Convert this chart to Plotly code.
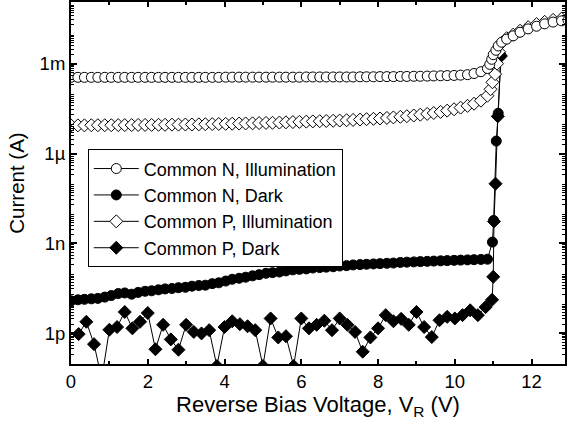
import plotly.graph_objects as go

# ---------------- data ----------------
# common voltage sweep (V) for the pre-breakdown region
V_SWEEP = [0.0, 0.18, 0.35, 0.53, 0.7, 0.88, 1.05, 1.23, 1.4, 1.58, 1.75, 1.93, 2.1, 2.28,
           2.45, 2.63, 2.8, 2.98, 3.15, 3.33, 3.5, 3.68, 3.85, 4.03, 4.2, 4.38, 4.55, 4.73,
           4.9, 5.08, 5.25, 5.43, 5.6, 5.78, 5.95, 6.13, 6.3, 6.48, 6.65, 6.83, 7.0, 7.18,
           7.35, 7.53, 7.7, 7.88, 8.05, 8.23, 8.4, 8.58, 8.75, 8.93, 9.1, 9.28, 9.45, 9.63,
           9.8, 9.98, 10.15, 10.33, 10.5, 10.68, 10.85]

# Common N, Illumination
N_ILL_I = [3.5e-4, 3.5e-4, 3.5e-4, 3.5e-4, 3.5e-4, 3.5e-4, 3.5e-4, 3.5e-4, 3.5e-4, 3.5e-4,
           3.5e-4, 3.5e-4, 3.5e-4, 3.5e-4, 3.5e-4, 3.5e-4, 3.5e-4, 3.5e-4, 3.5e-4, 3.5e-4,
           3.5e-4, 3.5e-4, 3.5e-4, 3.55e-4, 3.55e-4, 3.55e-4, 3.55e-4, 3.55e-4, 3.55e-4, 3.55e-4,
           3.55e-4, 3.55e-4, 3.55e-4, 3.55e-4, 3.55e-4, 3.6e-4, 3.6e-4, 3.6e-4, 3.6e-4, 3.6e-4,
           3.6e-4, 3.6e-4, 3.6e-4, 3.65e-4, 3.65e-4, 3.65e-4, 3.7e-4, 3.7e-4, 3.7e-4, 3.75e-4,
           3.75e-4, 3.8e-4, 3.8e-4, 3.85e-4, 3.9e-4, 3.95e-4, 4.0e-4, 4.05e-4, 4.15e-4, 4.3e-4,
           4.7e-4, 5.4e-4, 6.9e-4]
N_ILL_V_BD = [10.91, 10.96, 11.0, 11.07, 11.13, 11.22, 11.35, 11.52, 11.7, 11.91, 12.13,
              12.34, 12.56, 12.78, 12.95]
N_ILL_I_BD = [9.5e-4, 1.4e-3, 2.0e-3, 2.8e-3, 3.9e-3, 5.2e-3, 6.6e-3, 8.5e-3, 1.12e-2,
              1.45e-2, 1.78e-2, 2.14e-2, 2.45e-2, 2.69e-2, 2.8e-2]

# Common P, Illumination
P_ILL_I = [8.7e-6, 8.7e-6, 8.7e-6, 8.8e-6, 8.8e-6, 8.8e-6, 8.8e-6, 8.9e-6, 8.9e-6, 8.9e-6,
           9.0e-6, 9.0e-6, 9.0e-6, 9.1e-6, 9.1e-6, 9.2e-6, 9.2e-6, 9.3e-6, 9.3e-6, 9.4e-6,
           9.5e-6, 9.6e-6, 9.7e-6, 9.8e-6, 9.9e-6, 1.0e-5, 1.01e-5, 1.02e-5, 1.04e-5, 1.05e-5,
           1.06e-5, 1.08e-5, 1.1e-5, 1.12e-5, 1.14e-5, 1.16e-5, 1.18e-5, 1.2e-5, 1.22e-5, 1.24e-5,
           1.26e-5, 1.29e-5, 1.32e-5, 1.36e-5, 1.4e-5, 1.44e-5, 1.48e-5, 1.54e-5, 1.6e-5, 1.68e-5,
           1.76e-5, 1.86e-5, 1.98e-5, 2.1e-5, 2.25e-5, 2.45e-5, 2.7e-5, 3.0e-5, 3.4e-5, 3.9e-5,
           4.6e-5, 5.8e-5, 8.5e-5]
P_ILL_V_BD = [10.93, 10.98, 11.05, 11.1, 11.15, 11.22, 11.35, 11.52, 11.7, 11.91, 12.13,
              12.34, 12.56, 12.78, 12.95]
P_ILL_I_BD = [1.4e-4, 2.4e-4, 4.5e-4, 1.0e-3, 2.5e-3, 5.0e-3, 7.1e-3, 9.3e-3, 1.26e-2,
              1.66e-2, 2.1e-2, 2.5e-2, 2.9e-2, 3.2e-2, 3.4e-2]

# Common N, Dark
N_DARK_I = [1.2e-11, 1.3e-11, 1.35e-11, 1.4e-11, 1.45e-11, 1.6e-11, 1.8e-11, 2.1e-11, 2.2e-11, 2.0e-11,
            2.3e-11, 2.5e-11, 2.6e-11, 2.8e-11, 3.0e-11, 3.1e-11, 3.3e-11, 3.4e-11, 3.7e-11, 3.9e-11,
            4.0e-11, 4.5e-11, 4.8e-11, 5.5e-11, 6.3e-11, 6.8e-11, 7.4e-11, 8.2e-11, 9.0e-11, 1.0e-10,
            1.05e-10, 1.1e-10, 1.2e-10, 1.3e-10, 1.35e-10, 1.4e-10, 1.5e-10, 1.55e-10, 1.6e-10, 1.65e-10,
            1.75e-10, 1.8e-10, 1.9e-10, 1.95e-10, 2.0e-10, 2.05e-10, 2.1e-10, 2.15e-10, 2.2e-10, 2.3e-10,
            2.35e-10, 2.4e-10, 2.45e-10, 2.5e-10, 2.55e-10, 2.6e-10, 2.65e-10, 2.7e-10, 2.75e-10, 2.8e-10,
            2.85e-10, 2.9e-10, 2.95e-10]
N_DARK_V_BD = [10.98, 11.01, 11.08, 11.13, 11.2]
N_DARK_I_BD = [1.1e-9, 5.8e-9, 2.6e-6, 2.2e-5, 1.9e-3]

# Common P, Dark
P_DARK_V = [0.2, 0.4, 0.6, 0.8, 1.0, 1.2, 1.4, 1.6, 1.8, 2.0, 2.2, 2.4, 2.6, 2.8, 3.0, 3.2,
            3.4, 3.6, 3.8, 4.0, 4.2, 4.4, 4.6, 4.8, 5.0, 5.2, 5.4, 5.6, 5.8, 6.0, 6.2, 6.4,
            6.6, 6.8, 7.0, 7.2, 7.4, 7.6, 7.8, 8.0, 8.2, 8.4, 8.6, 8.8, 9.0, 9.2, 9.4, 9.6,
            9.8, 10.0, 10.2, 10.4, 10.6, 10.8, 10.97, 11.0, 11.02, 11.06, 11.12, 11.2]
P_DARK_I = [9.3e-13, 2.4e-12, 4.3e-13, 3e-14, 1.3e-12, 1.6e-12, 5.1e-12, 1.45e-12, 2.4e-12, 4.7e-12,
            2.9e-13, 1.9e-12, 6.2e-13, 2.8e-13, 1.9e-12, 1.1e-12, 9.8e-13, 1.26e-12, 8e-14, 1.6e-12,
            2.5e-12, 2.0e-12, 1.7e-12, 1.26e-12, 8e-14, 3.1e-12, 7.2e-13, 7.9e-13, 8e-14, 3.1e-12,
            1.45e-12, 1.9e-12, 2.6e-12, 1.26e-12, 3.1e-12, 1.9e-12, 1.1e-12, 2.4e-13, 7.2e-13, 1.45e-12,
            4.0e-12, 2.5e-12, 3.0e-12, 1.9e-12, 5.1e-12, 1.6e-12, 7.4e-13, 2.7e-12, 3.5e-12, 3.1e-12,
            4.0e-12, 5.8e-12, 4.0e-12, 7.4e-12, 1.3e-11, 7.6e-11, 5.4e-9, 9.8e-8, 1.74e-5, 1.8e-3]

# axis ticks
X_TICKS = [0, 2, 4, 6, 8, 10, 12]
Y_LABEL_VALS = [1e-12, 1e-9, 1e-6, 1e-3]
Y_LABELS = ["1p", "1n", "1µ", "1m"]
Y_OTHER_DECADES = [1e-13, 1e-11, 1e-10, 1e-8, 1e-7, 1e-5, 1e-4, 1e-2, 1e-1]

# ---------------- figure ----------------
FONT = "Liberation Sans, Arial, sans-serif"
YRANGE = [-13.03, -0.94]
fig = go.Figure()

def add(name, x, y, symbol, fill, rank):
    fig.add_trace(go.Scatter(
        x=x, y=y, name=name, mode="lines+markers", legendrank=rank,
        line=dict(color="black", width=1),
        marker=dict(symbol=symbol, size=10, color=fill, line=dict(color="black", width=1)),
    ))

add("Common P, Dark", P_DARK_V, P_DARK_I, "diamond", "black", 4)
add("Common N, Dark", V_SWEEP + N_DARK_V_BD, N_DARK_I + N_DARK_I_BD, "circle", "black", 2)
add("Common P, Illumination", V_SWEEP + P_ILL_V_BD, P_ILL_I + P_ILL_I_BD, "diamond", "white", 3)
add("Common N, Illumination", V_SWEEP + N_ILL_V_BD, N_ILL_I + N_ILL_I_BD, "circle", "white", 1)

minor_y = [k * d for d in [1e-14] + Y_LABEL_VALS + Y_OTHER_DECADES for k in range(2, 10)]

fig.update_layout(
    width=568, height=427,
    margin=dict(l=71, r=3, t=0, b=63),
    paper_bgcolor="white", plot_bgcolor="white",
    font=dict(family=FONT, size=18, color="black"),
    showlegend=True,
    legend=dict(
        x=0.034, y=0.593, xanchor="left", yanchor="top",
        bgcolor="white", bordercolor="black", borderwidth=1,
        font=dict(size=18), itemwidth=45, tracegroupgap=0,
        traceorder="normal",
    ),
    xaxis=dict(
        range=[0, 12.87], tickvals=X_TICKS,
        ticks="inside", ticklen=5, tickwidth=2, tickcolor="black",
        showline=True, linewidth=2, linecolor="black", mirror="ticks",
        showgrid=False, zeroline=False,
        minor=dict(tickvals=[1, 3, 5, 7, 9, 11], ticks="inside", ticklen=3,
                   tickwidth=2, tickcolor="black", showgrid=False),
        title=dict(text="Reverse Bias Voltage, V<sub>R</sub> (V)", font=dict(size=22), standoff=5),
        tickfont=dict(size=18.5),
    ),
    yaxis=dict(
        type="log", range=YRANGE,
        tickvals=Y_LABEL_VALS, ticktext=Y_LABELS,
        ticks="inside", ticklen=6, tickwidth=2, tickcolor="black",
        showline=True, linewidth=2, linecolor="black", mirror="ticks",
        showgrid=False, zeroline=False,
        minor=dict(tickvals=minor_y, ticks="inside", ticklen=3,
                   tickwidth=1, tickcolor="black", showgrid=False),
        title=dict(text="Current (A)", font=dict(size=20.5), standoff=9),
        tickfont=dict(size=18.5),
    ),
    yaxis2=dict(
        type="log", range=YRANGE, overlaying="y", side="left", anchor="x",
        tickvals=Y_OTHER_DECADES, showticklabels=False,
        ticks="inside", ticklen=6, tickwidth=2, tickcolor="black",
        showline=False, mirror="ticks", showgrid=False, zeroline=False,
    ),
)

fig.write_html("out.html")
